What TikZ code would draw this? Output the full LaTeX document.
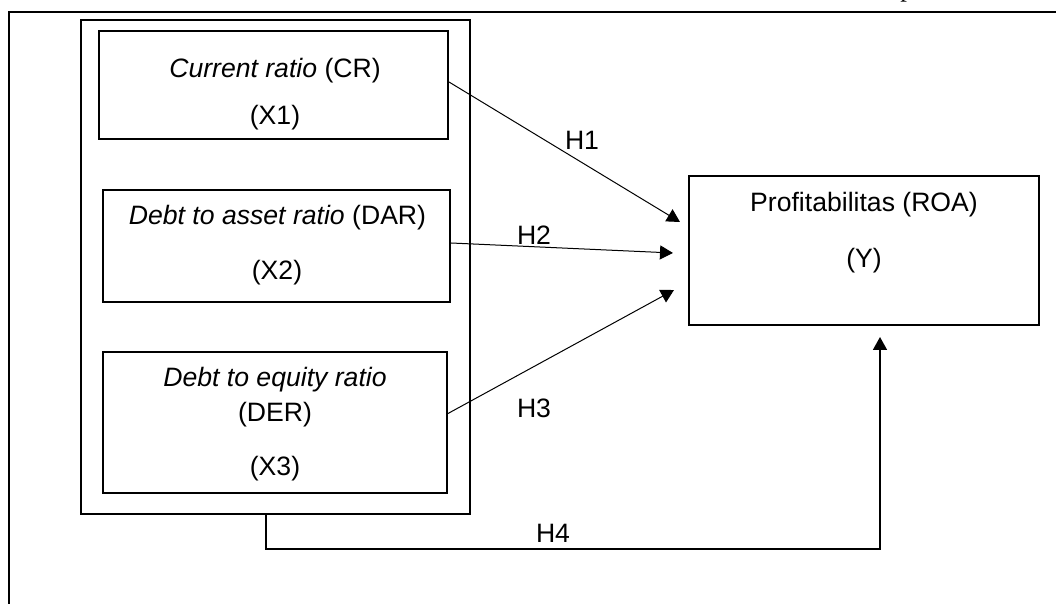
\documentclass[tikz,border=0pt]{standalone}
\usepackage{fontspec}
\setmainfont{Liberation Sans}
\newfontfamily\pagefont{Liberation Serif}
\usetikzlibrary{arrows.meta}

\begin{document}
\begin{tikzpicture}[x=0.5pt, y=-0.5pt, font=\fontsize{13.3}{16}\selectfont,
		box/.style={draw, line width=1pt, inner sep=0pt},
		arr/.style={-{Triangle[length=6.5pt, width=7pt]}, line width=0.5pt},
		lbl/.style={anchor=base}]
		\useasboundingbox (0,0) rectangle (1056,604);
		% page frame
		\draw[line width=1.2pt] (1056,12) -- (9,12) -- (9,604);
		\node[lbl, font=\pagefont\fontsize{13.3}{16}\selectfont] (pg) at (907,-3) {p};
		% independent variables
		\node[box, line width=1.2pt, minimum width=194.5pt, minimum height=247pt] (grp) at (275.5,267) {};
		\foreach \n/\x/\y/\w/\h in {1/273.5/85/174.5pt/54pt, 2/276.5/246/173.5pt/56pt, 3/275/422.5/172pt/70.5pt}{
			\node[box, minimum width=\w, minimum height=\h] (x\n) at (\x,\y) {};
			}
		\node[lbl] (x1a) at (275,78) {\textit{Current ratio} (CR)};
		\node[lbl] (x1b) at (275,125) {(X1)};
		\node[lbl] (x2a) at (277.5,225) {\textit{Debt to asset ratio} (DAR)};
		\node[lbl] (x2b) at (277,280) {(X2)};
		\node[lbl] (x3a) at (275,387) {\textit{Debt to equity ratio}};
		\node[lbl] (x3b) at (275,422) {(DER)};
		\node[lbl] (x3c) at (275,475) {(X3)};
		% dependent variable
		\node[box, minimum width=175pt, minimum height=74.5pt] (y) at (864,250.5) {};
		\node[lbl] (ya) at (864,212) {Profitabilitas (ROA)};
		\node[lbl] (yb) at (864,268) {(Y)};
		% hypotheses
		\coordinate (h1end) at (680,222);
		\coordinate (h2end) at (673,253);
		\coordinate (h3end) at (674,290);
		\coordinate (h4turn) at (266,549);
		\coordinate (h4corner) at (880,549);
		\coordinate (h4end) at (880,337);
		\draw[arr] ([yshift=1.5pt]x1.east) -- (h1end);
		\draw[arr] ([yshift=1.5pt]x2.east) -- (h2end);
		\draw[arr] ([yshift=4.5pt]x3.east) -- (h3end);
		\draw[arr, line width=0.8pt] (grp.south -| h4turn) -- (h4turn) -- (h4corner) -- (h4end);
		\node[lbl] (h1) at (582,150) {H1};
		\node[lbl] (h2) at (534,245) {H2};
		\node[lbl] (h3) at (534,418) {H3};
		\node[lbl] (h4) at (553,542) {H4};
	\end{tikzpicture}
\end{document}
